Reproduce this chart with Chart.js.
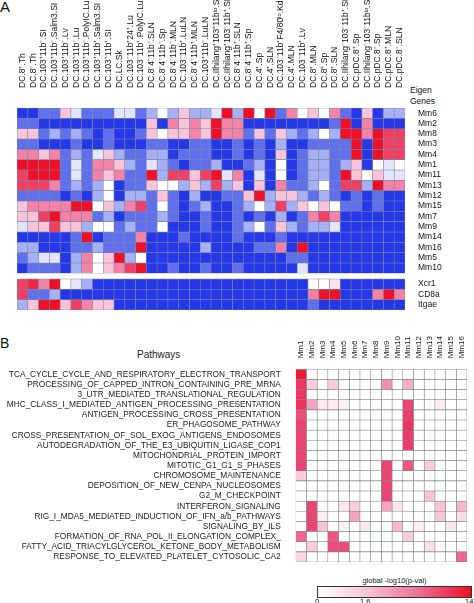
<!DOCTYPE html>
<html>
<head>
<meta charset="utf-8">
<script src="https://cdn.jsdelivr.net/npm/chart.js@4/dist/chart.umd.min.js"></script>
<style>
body { margin: 0; background: #fff; font-family: "Liberation Sans", Arial, sans-serif; }
#wrap { position: relative; width: 474px; height: 603px; overflow: hidden; }
canvas { position: absolute; left: 0; }
.t { position: absolute; white-space: nowrap; color: #111; }
</style>
</head>
<body>
<div id="wrap">
  <div class="t" style="left:0;top:-2px;font-size:15px">A</div>
  <div class="t" style="left:410px;top:85px;font-size:8.5px;line-height:10.5px">Eigen<br>Genes</div>
  <canvas id="ca" width="474" height="320" style="top:0"></canvas>

  <div class="t" style="left:0;top:335px;font-size:14px">B</div>
  <div class="t" style="left:137px;top:349px;font-size:10px;color:#222">Pathways</div>
  <canvas id="cb" width="474" height="244" style="top:330px"></canvas>

  <div class="t" style="left:317px;top:576px;width:155px;text-align:center;font-size:7.5px;color:#222">global -log10(p-val)</div>
  <div style="position:absolute;left:317px;top:586px;width:153px;height:10px;border:1px solid #333;
       background:linear-gradient(to right,#ffffff 0%,#f9c8d8 30%,#f07ea3 60%,#ee3f68 82%,#f01020 100%)"></div>
  <div class="t" style="left:315px;top:597px;font-size:7.5px">0</div>
  <div class="t" style="left:360px;top:597px;font-size:7.5px">1.6</div>
  <div class="t" style="left:465px;top:597px;font-size:7.5px">14</div>
</div>

<script>
// ---- panel A : eigengene heatmap ----
const cellTypes = [
  'DC.8⁺.Th', 'DC.8⁻.Th', 'DC.103⁺11b⁻.SI', 'DC.103⁺11b⁻.Salm3.SI', 'DC.103⁺11b⁻.Lv',
  'DC.103⁺11b⁻.Lu', 'DC.103⁺11b⁻.PolyIC.Lu', 'DC.103⁺11b⁺.Salm3.SI', 'DC.103⁺11b⁺.SI', 'DC.LC.Sk',
  'DC.103⁻11b⁺24⁺.Lu', 'DC.103⁻11b⁺.PolyIC.Lu', 'DC.8⁻4⁻11b⁻.SLN', 'DC.8⁻4⁻11b⁻.Sp', 'DC.8⁻4⁻11b⁻.MLN',
  'DC.103⁻11b⁺.LuLN', 'DC.8⁻4⁻11b⁺.MLN', 'DC.103⁺11b⁻.LuLN', 'DC.IIhilang⁺103⁺11bˡᵒ.SLN', 'DC.IIhilang⁺103⁻11b⁺.SLN',
  'DC.8⁻4⁻11b⁺.SLN', 'DC.8⁻4⁻11b⁺.Sp', 'DC.4⁺.Sp', 'DC.4⁺.SLN', 'DC.103⁻11b⁺F4/80ˡᵒ.Kd',
  'DC.4⁺.MLN', 'DC.103⁻11b⁺.Lv', 'DC.8⁺.MLN', 'DC.8⁺.Sp', 'DC.8⁺.SLN',
  'DC.IIhilang⁻103⁻11b⁺.SLN', 'DC.pDC.8⁺.Sp', 'DC.IIhilang⁻103⁻11bˡᵒ.SLN', 'DC.pDC.8⁻.Sp', 'DC.pDC.8⁺.MLN',
  'DC.pDC.8⁻.SLN'
];

const moduleNames = ['Mm6','Mm2','Mm8','Mm3','Mm4','Mm1','Mm11','Mm13','Mm12','Mm15','Mm7','Mm9','Mm14','Mm16','Mm5','Mm10'];
const geneNames = ['Xcr1','CD8a','Itgae'];

// scaled expression, -1 (blue) .. +1 (red)
const Mm6  = [-1,-1,-0.7,-0.7,0.3,-0.15,-0.7,-0.7,-0.7,-0.15,-0.15,-0.7,-0.4,0,-0.4,0.3,-0.4,-0.4,-0.15,1,-0.4,1,0,1,-0.7,0.55,0,0.3,0,0.55,-0.7,-1,0.3,-1,-0.4,-0.4];
const Mm2  = [-0.7,-0.7,-1,-1,-1,-1,-1,-1,-1,-1,-1,-1,0.3,-1,0.55,0.3,0.55,0.3,1,0.55,0.55,-1,-1,-1,-1,-1,-1,-1,-1,-0.7,1,-1,0.55,-1,-1,-1];
const Mm8  = [0.3,0.3,-0.7,-0.4,-0.7,-0.4,-0.7,-1,-0.7,-1,-1,-0.7,0.3,0,0.3,0.3,0.55,0.3,1,0.55,0.55,-0.7,0.3,-0.7,0.3,-0.4,-0.7,-0.4,0,-0.4,1,1,0.55,1,0.8,0.8];
const Mm3  = [-0.7,-0.7,-1,-1,-1,-0.7,-1,-1,-0.7,-1,-1,-1,-0.7,-0.7,-1,-1,-0.7,-0.7,-1,-1,-0.7,-1,-0.7,-1,-0.4,-1,-1,-0.7,-0.7,-0.7,-0.7,1,-1,1,0.8,0.8];
const Mm4  = [0.55,0.55,0.3,0.55,-0.7,-0.4,-0.7,-0.15,0.3,-0.4,-0.7,-0.7,-0.4,-0.4,-1,-0.7,-0.7,-0.7,-1,-1,-0.7,-1,-0.7,-1,0.3,-1,-0.7,-0.4,-0.4,-0.7,-0.7,1,-1,1,0.8,0.8];
const Mm1  = [1,1,1,1,-0.7,-0.15,-0.7,0.55,0.55,0.3,-0.4,-0.7,-0.15,-0.4,-0.7,-1,-0.7,-0.7,-0.4,-1,-1,-0.7,-0.4,-1,0,-1,-0.7,-0.4,-0.4,-0.7,-0.4,0.3,-1,0,-0.15,0];
const Mm11 = [0.8,1,1,1,-0.7,-0.15,-0.7,0.55,0.3,0.55,-0.7,-0.7,1,-0.4,0.8,0.8,0.3,0.8,1,-0.15,0.55,-1,-0.15,-1,0,-1,-0.7,-0.4,-0.4,-0.7,1,0.3,0,0.3,-0.15,-0.15];
const Mm13 = [0.8,0.8,0.8,0.55,-0.7,-0.4,-0.7,-0.4,0,-1,-0.7,-0.7,0.3,0,0,-0.4,0.3,-0.4,0.8,-0.4,0.3,-1,0.3,-1,0.55,-0.7,-0.7,-0.4,0,-0.7,0.8,0.8,-0.4,1,0.55,0.55];
const Mm12 = [-0.7,-0.7,-0.7,-0.7,-1,-0.7,-1,-0.4,0,-1,-0.4,-0.4,-0.7,0.3,-0.7,-1,-0.4,-1,-1,-0.7,-0.7,0.3,1,-0.4,0.3,0.3,-0.4,-0.7,-0.4,-0.7,-1,-0.7,-1,-0.7,-1,-1];
const Mm15 = [0.3,0.55,0.55,0.55,0.55,1,1,0,0.3,-0.4,0.55,0.8,-0.7,0,-0.7,-1,-0.7,-0.4,-1,-1,-0.7,-0.4,0,-0.4,0.8,-0.4,0.3,0,0.3,0,-0.7,-0.7,-1,-0.7,-1,-1];
const Mm7  = [0.3,0.3,0.8,1,0.55,0.55,0.55,-0.7,-0.4,-1,-0.7,-0.7,-0.7,-0.4,-0.7,-1,-1,-0.7,-1,-1,-0.7,-1,-0.7,-1,-0.4,-1,-0.7,0.55,0.8,0.55,-1,-1,-1,-1,-1,-1];
const Mm9  = [-0.15,0.3,0.3,0.8,0.3,0.3,-0.4,0,0,-0.7,-0.4,-0.7,-0.7,0,-1,-1,-1,-0.7,-1,-1,-0.7,-0.4,0,-0.7,0.3,-0.4,-0.7,-0.4,-0.4,-0.15,-1,-1,-1,-1,-1,-1];
const Mm14 = [-1,-1,-1,-1,-1,-0.7,1,-1,-0.7,-0.7,-0.7,0.55,-1,-1,-1,-0.7,-1,-1,-1,-1,-0.7,-1,-1,-1,-0.7,-1,-1,-1,-1,-1,-1,-1,-1,-1,-1,-1];
const Mm16 = [-0.4,-0.4,-1,-1,-1,-0.7,-0.7,-0.4,-0.7,-0.7,-0.7,1,-1,-1,-1,-1,-1,-0.4,-1,-1,-1,-1,-0.7,-0.7,0.55,-1,1,-1,-1,-1,-1,-1,-1,-1,-1,-1];
const Mm5  = [-0.7,-0.4,-0.15,-0.15,-1,-0.4,0.55,0,0.3,1,-0.4,0,-1,-1,-1,-1,-1,-1,-1,-1,-1,-1,-1,-1,-1,-0.7,-0.7,-1,-1,-1,-1,-1,-1,-1,-1,-1];
const Mm10 = [-1,-0.7,-0.7,-0.7,-1,-0.4,0.55,0,0.3,0.55,0.8,1,-1,-1,-0.7,-1,-1,-0.7,-1,-1,-0.7,-1,-1,-1,-1,-1,-0.15,-1,-1,-1,-1,-1,-1,-1,-1,-1];

const Xcr1  = [0.8,0.9,0.55,1,0,-0.15,-0.4,-1,-1,-1,-1,-1,-1,-1,-1,-1,-1,-1,-1,-1,-1,-1,-1,-1,-1,-1,-1,0,0,0.15,-1,-1,-1,-1,-1,-1];
const CD8a  = [0.8,-0.7,-0.7,-0.4,-1,-1,-1,-1,-1,-1,-1,-1,-1,-1,-1,-1,-1,-1,-1,-1,-1,-1,-1,-1,-1,-1,-1,0.55,1,1,-1,-1,-1,0.55,1,0.55];
const Itgae = [-0.4,0.3,1,1,0.3,0.8,0.55,0.3,0.3,-1,-1,-1,-1,-1,-1,-1,-1,-1,-1,-1,-1,-1,-1,-1,-1,-1,-1,-0.7,-1,-1,-1,-1,-1,-1,-1,-1];

// ---- panel B : pathway enrichment ----
const pathways = [
  'TCA_CYCLE_CYCLE_AND_RESPIRATORY_ELECTRON_TRANSPORT',
  'PROCESSING_OF_CAPPED_INTRON_CONTAINING_PRE_MRNA',
  '3_UTR_MEDIATED_TRANSLATIONAL_REGULATION',
  'MHC_CLASS_I_MEDIATED_ANTIGEN_PROCESSING_PRESENTATION',
  'ANTIGEN_PROCESSING_CROSS_PRESENTATION',
  'ER_PHAGOSOME_PATHWAY',
  'CROSS_PRESENTATION_OF_SOL_EXOG_ANTIGENS_ENDOSOMES',
  'AUTODEGRADATION_OF_THE_E3_UBIQUITIN_LIGASE_COP1',
  'MITOCHONDRIAL_PROTEIN_IMPORT',
  'MITOTIC_G1_G1_S_PHASES',
  'CHROMOSOME_MAINTENANCE',
  'DEPOSITION_OF_NEW_CENPA_NUCLEOSOMES',
  'G2_M_CHECKPOINT',
  'INTERFERON_SIGNALING',
  'RIG_I_MDA5_MEDIATED_INDUCTION_OF_IFN_a/b_PATHWAYS',
  'SIGNALING_BY_ILS',
  'FORMATION_OF_RNA_POL_II_ELONGATION_COMPLEX_',
  'FATTY_ACID_TRIACYLGLYCEROL_KETONE_BODY_METABOLISM',
  'RESPONSE_TO_ELEVATED_PLATELET_CYTOSOLIC_CA2'
];
const modulesB = ['Mm1','Mm2','Mm3','Mm4','Mm5','Mm6','Mm7','Mm8','Mm9','Mm10','Mm11','Mm12','Mm13','Mm14','Mm15','Mm16'];

// global -log10(p-val), one row per pathway, columns Mm1..Mm16
const pvalRows = [
  [13,0,0,0,0,0,0,0,0,0,0,0,0,0,0,0],
  [11,3,0,3,0,0,0,0,6,0,4.5,0,0,0,0,0],
  [11,0,0,0,0,0,0,0,0,0,0,0,0,0,0,0],
  [11,5,1.2,1.2,0.8,0,0,0,0,0,10,0,0,1.2,0,0],
  [9.5,0,0,0,0,0,0,0,0,0,10.5,0,0,0,0,0],
  [10,0,0,0,0,0,0,0,0,0,11,0,0,0,0,0],
  [10,0,0,0,0,0,0,0,0,0,10.5,0,0,0,0,0],
  [10,0,0,0,0,0,0,0,0,0,10.5,0,0,0,0,0],
  [10,0,0,0,0,0,0,0,0,0,0,0,0,0,0,0],
  [10,0,0,0,0,0,0,0,10,0,9,0,3,0,0,0],
  [3,0,0,0,0,0,0,0,10,0,0,0,0,0,0,0],
  [0,0,0,0,0,0,0,0,10,0,0,0,0,0,0,0],
  [0,0,0,0,0,0,0,0,10,0,0,0,3.5,0,0,0],
  [0,10,0,0,1.5,3,0,0,5,1.5,0,0,0,3.5,0,4],
  [0,10,1,0,0,5,0,0,0,0,0,0,0,3.5,0,2],
  [0,10,3.5,0,1,0,1.5,0,0,4,0,1,0,0,1.5,0],
  [8,0,0,9,0,0,0,0,0,0,3,0,0,0,0,0],
  [0,3,0,9.5,9.5,0,0,0,0,0,0,0,2,0,0,0],
  [2.5,0,0,0,0,0,0,0,0,0,0,0,0,0,0,8]
];

function mix(stops, t) {
  for (let i = 1; i < stops.length; i++) {
    if (t <= stops[i][0]) {
      const a = stops[i - 1], b = stops[i];
      const f = (t - a[0]) / (b[0] - a[0]);
      const c = [0, 1, 2].map(k => Math.round(a[1][k] + (b[1][k] - a[1][k]) * f));
      return 'rgb(' + c.join(',') + ')';
    }
  }
  const l = stops[stops.length - 1][1];
  return 'rgb(' + l.join(',') + ')';
}
const blueStops = [[0,[255,255,255]],[0.15,[226,229,251]],[0.4,[166,176,245]],[0.7,[96,112,236]],[1,[36,56,232]]];
const redStops  = [[0,[255,255,255]],[0.3,[250,196,216]],[0.55,[244,130,166]],[0.8,[239,64,100]],[1,[238,16,38]]];
function colA(v) { return v < 0 ? mix(blueStops, -v) : mix(redStops, v); }
const bStops = [[0,[255,255,255]],[0.25,[249,196,214]],[0.5,[241,120,160]],[0.75,[236,58,105]],[1,[238,14,34]]];
function colB(v) { return mix(bStops, Math.min(1, v / 14)); }

// ---- chart A ----
const rowsA = [Mm6, Mm2, Mm8, Mm3, Mm4, Mm1, Mm11, Mm13, Mm12, Mm15, Mm7, Mm9, Mm14, Mm16, Mm5, Mm10, Xcr1, CD8a, Itgae];
const namesA = moduleNames.concat(geneNames);
const posA = namesA.map((_, i) => i < 16 ? i : i + 0.55);

const dsA = rowsA.map((vals, i) => ({
  label: namesA[i],
  data: vals.map((v, c) => ({ x: cellTypes[c], y: [posA[i], posA[i] + 1] })),
  backgroundColor: vals.map(colA),
  borderColor: '#7884a6',
  borderWidth: 0.6,
  borderSkipped: false,
  grouped: false,
  barPercentage: 1,
  categoryPercentage: 1
}));

new Chart(document.getElementById('ca'), {
  type: 'bar',
  data: { labels: cellTypes, datasets: dsA },
  options: {
    responsive: false,
    animation: false,
    layout: { padding: { left: 17, right: 0, top: 0, bottom: 2 } },
    plugins: { legend: { display: false }, tooltip: { enabled: false } },
    scales: {
      x: {
        type: 'category',
        position: 'top',
        grid: { display: false },
        border: { display: false },
        // rotated top labels are pushed left by one line height; move them back over the column
        ticks: { autoSkip: false, minRotation: 90, maxRotation: 90, padding: 12, labelOffset: 10.2,
                 color: '#111', font: { family: 'Liberation Sans', size: 8.5 } },
        afterFit: s => { s.height = 108; }
      },
      y: {
        type: 'linear',
        position: 'right',
        reverse: true,
        min: 0,
        max: 19.55,
        grid: { display: false },
        border: { display: false },
        afterBuildTicks: s => { s.ticks = posA.map(p => ({ value: p + 0.5 })); },
        ticks: { autoSkip: false, padding: 5, color: '#111',
                 font: { family: 'Liberation Sans', size: 8.5 },
                 callback: (v, i) => namesA[i] },
        afterFit: s => { s.width = 69; }
      }
    }
  }
});

// ---- chart B ----
const dsB = modulesB.map((m, c) => ({
  label: m,
  data: pathways.map((p, r) => ({ y: p, x: [c, c + 1] })),
  backgroundColor: pvalRows.map(row => colB(row[c])),
  borderColor: '#7d8787',
  borderWidth: 0.6,
  borderSkipped: false,
  grouped: false,
  barPercentage: 1,
  categoryPercentage: 1
}));

new Chart(document.getElementById('cb'), {
  type: 'bar',
  data: { labels: pathways, datasets: dsB },
  options: {
    indexAxis: 'y',
    responsive: false,
    animation: false,
    layout: { padding: { left: 0, right: 7, top: 0, bottom: 1.3 } },
    plugins: { legend: { display: false }, tooltip: { enabled: false } },
    scales: {
      y: {
        type: 'category',
        position: 'left',
        grid: { display: false },
        border: { display: false },
        ticks: { autoSkip: false, padding: 7, color: '#222',
                 font: { family: 'Liberation Sans', size: 8.3 } },
        afterFit: s => { s.width = 295.7; }
      },
      x: {
        type: 'linear',
        position: 'top',
        min: 0,
        max: 16,
        grid: { display: false },
        border: { display: false },
        afterBuildTicks: s => { s.ticks = modulesB.map((_, i) => ({ value: i + 0.5 })); },
        ticks: { autoSkip: false, minRotation: 90, maxRotation: 90, padding: 3, labelOffset: 9.6, color: '#222',
                 font: { family: 'Liberation Sans', size: 8 },
                 callback: (v, i) => modulesB[i] },
        afterFit: s => { s.height = 39.3; }
      }
    }
  }
});
</script>
</body>
</html>
